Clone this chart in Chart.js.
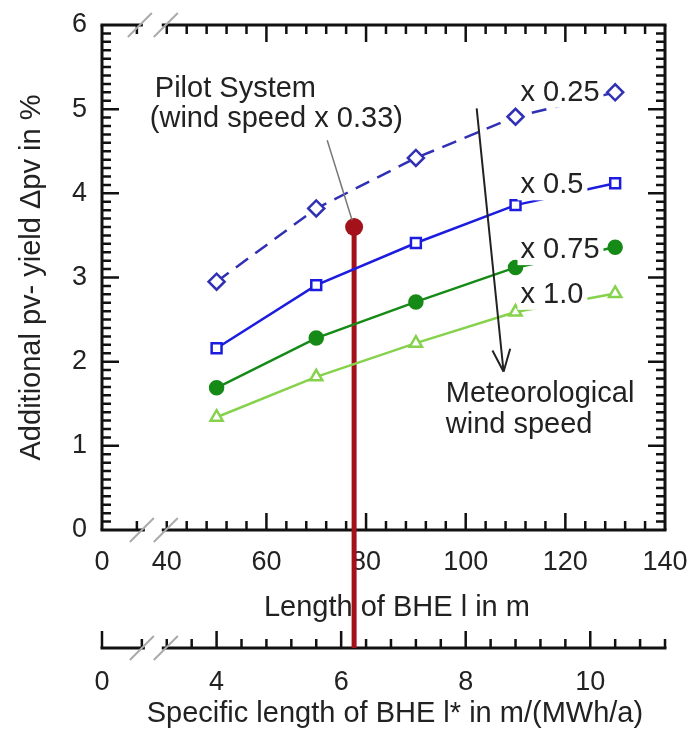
<!DOCTYPE html>
<html>
<head>
<meta charset="utf-8">
<script src="https://cdn.jsdelivr.net/npm/chart.js@4/dist/chart.umd.min.js"></script>
<style>
  html, body { margin: 0; padding: 0; background: #fff; }
  #wrap { width: 692px; height: 729px; }
</style>
</head>
<body>
<div id="wrap"><canvas id="myChart" width="692" height="729"></canvas></div>
<script>
// length of BHE in m
const lengths = [50, 70, 90, 110, 130];
// additional pv yield in %, one series per wind speed factor
const yield025 = [2.95, 3.82, 4.42, 4.91, 5.20];
const yield05 = [2.16, 2.91, 3.41, 3.86, 4.12];
const yield075 = [1.69, 2.28, 2.71, 3.12, 3.36];
const yield10 = [1.34, 1.82, 2.22, 2.59, 2.81];
const seriesNames = ["x 0.25", "x 0.5", "x 0.75", "x 1.0"];
// pilot system (wind speed x 0.33)
const pilotLength = [77.6];
const pilotYield = [3.6];
// tick labels
const lengthTicks = [40, 60, 80, 100, 120, 140];
const specificTicks = [4, 6, 8, 10];
const yieldTicks = [0, 1, 2, 3, 4, 5, 6];

// axis break: the "0" sits where 27 would be, 40..140 is linear
const breakStart = 27;
const mPerMWh = 12.5; // l* = l / 12.5
const FONT = "'Liberation Sans', Arial, Helvetica, sans-serif";
const TXT = "#222";

Chart.defaults.font.family = FONT;
Chart.defaults.color = TXT;

function pts(ys) {
  return lengths.map((x, i) => ({ x: x, y: ys[i] }));
}

// keep the label overhang out of the layout, the margins are set by layout.padding
function noOverhang(s) {
  s.paddingLeft = 0; s.paddingRight = 0; s.paddingTop = 0; s.paddingBottom = 0;
}

const colors = ["#3030b4", "#1c1ce0", "#168a16", "#86d24c"];

const frame = {
  id: "frame",
  beforeDatasetsDraw(chart) {
    const { ctx, chartArea: a, scales } = chart;
    const x = scales.x, x2 = scales.x2, y = scales.y;
    ctx.save();
    ctx.strokeStyle = "#111";
    ctx.lineCap = "butt";

    // horizontal axis with a break, ticks going up (dir -1) or down (dir 1)
    function brokenAxis(scale, y0, from, gapA, gapB, to, majors, minors, dir) {
      const p = v => scale.getPixelForValue(v);
      ctx.lineWidth = 3;
      ctx.beginPath();
      ctx.moveTo(p(from) - 1.5, y0); ctx.lineTo(p(gapA), y0);
      ctx.moveTo(p(gapB), y0); ctx.lineTo(p(to) + 1.5, y0);
      ctx.stroke();
      ctx.lineWidth = 2.5;
      ctx.beginPath();
      majors.forEach(v => { ctx.moveTo(p(v), y0); ctx.lineTo(p(v), y0 + dir * 17); });
      minors.forEach(v => { ctx.moveTo(p(v), y0); ctx.lineTo(p(v), y0 + dir * 9); });
      ctx.stroke();
      // break marks
      ctx.strokeStyle = "#aaa";
      ctx.lineWidth = 2;
      ctx.beginPath();
      [p(gapA) - 3, p(gapB) + 4].forEach(cx => {
        ctx.moveTo(cx - 12, y0 + 12); ctx.lineTo(cx + 12, y0 - 12);
      });
      ctx.stroke();
      ctx.strokeStyle = "#111";
    }

    const lenMinors = [34];
    for (let v = 40; v < 140; v += 4) if (v % 20 !== 0 || v === 40) lenMinors.push(v);
    const lenMajors = lengthTicks.filter(v => v > 40 && v < 140);
    brokenAxis(x, a.bottom, breakStart, 35.6, 39, 140, lenMajors, lenMinors, -1);
    brokenAxis(x, a.top, breakStart, 35.2, 39, 140, lenMajors, lenMinors, 1);

    const sMin = breakStart / mPerMWh, sMax = 140 / mPerMWh;
    const sMinors = [2.8];
    for (let k = 0; k <= 20; k++) {
      const v = +(3.2 + 0.4 * k).toFixed(2);
      if (v <= sMax + 1e-6 && !specificTicks.includes(v)) sMinors.push(v);
    }
    brokenAxis(x2, x2.top, sMin, 35.6 / mPerMWh, 39 / mPerMWh, sMax,
      [sMin].concat(specificTicks), sMinors, -1);

    // left and right frame with ticks
    ctx.lineWidth = 3;
    ctx.beginPath();
    ctx.moveTo(a.left, a.top); ctx.lineTo(a.left, a.bottom);
    ctx.moveTo(a.right, a.top); ctx.lineTo(a.right, a.bottom);
    ctx.stroke();
    ctx.lineWidth = 2.5;
    ctx.beginPath();
    for (let k = 1; k < 60; k++) {
      const py = y.getPixelForValue(k / 10);
      const len = k % 10 === 0 ? 17 : 9;
      ctx.moveTo(a.left, py); ctx.lineTo(a.left + len, py);
      ctx.moveTo(a.right, py); ctx.lineTo(a.right - len, py);
    }
    ctx.stroke();

    // drop line of the pilot system down to the l* axis
    const px = x.getPixelForValue(pilotLength[0]);
    ctx.strokeStyle = "#a3121a";
    ctx.lineWidth = 5;
    ctx.beginPath();
    ctx.moveTo(px, y.getPixelForValue(pilotYield[0]));
    ctx.lineTo(px, x2.top);
    ctx.stroke();
    ctx.restore();
  },
  afterDatasetsDraw(chart) {
    const { ctx, scales } = chart;
    const x = scales.x, x2 = scales.x2, y = scales.y;
    const X = v => x.getPixelForValue(v), Y = v => y.getPixelForValue(v);
    ctx.save();
    ctx.font = "29px " + FONT;
    ctx.textBaseline = "alphabetic";
    ctx.textAlign = "left";

    // series labels on white boxes over the line ends
    const labelBase = [5.10, 4.00, 3.23, 2.70];
    seriesNames.forEach((t, i) => {
      const lx = X(111), ly = Y(labelBase[i]);
      const w = ctx.measureText(t).width;
      ctx.fillStyle = "#fff";
      ctx.fillRect(lx - 3, ly - 24, w + 7, 31);
      ctx.fillStyle = TXT;
      ctx.fillText(t, lx, ly);
    });

    // pilot system note and leader line
    ctx.fillStyle = TXT;
    ctx.fillText("Pilot System", X(37.6), Y(5.14));
    ctx.fillText("(wind speed x 0.33)", X(36.6), Y(4.79));
    ctx.strokeStyle = "#777";
    ctx.lineWidth = 1.5;
    ctx.beginPath();
    ctx.moveTo(X(72.2), Y(4.63));
    ctx.lineTo(X(77.2), Y(3.68));
    ctx.stroke();

    // arrow for increasing wind speed
    const ax0 = X(102.2), ay0 = Y(5.01), ax1 = X(107.6), ay1 = Y(1.88);
    ctx.strokeStyle = "#222";
    ctx.lineWidth = 2;
    ctx.beginPath();
    ctx.moveTo(ax0, ay0); ctx.lineTo(ax1, ay1);
    const ang = Math.atan2(ay1 - ay0, ax1 - ax0);
    [0.38, -0.38].forEach(d => {
      ctx.moveTo(ax1, ay1);
      ctx.lineTo(ax1 - 24 * Math.cos(ang + d), ay1 - 24 * Math.sin(ang + d));
    });
    ctx.stroke();
    ctx.fillText("Meteorological", X(96), Y(1.52));
    ctx.fillText("wind speed", X(96), Y(1.15));

    // x axis titles
    ctx.textAlign = "center";
    ctx.textBaseline = "middle";
    ctx.fillText("Length of BHE l in m", X(86.2), x.bottom - 40);
    ctx.fillText("Specific length of BHE l* in m/(MWh/a)", X(85.8), x2.bottom - 15);
    ctx.restore();
  }
};

const lineDs = (label, ys, i, style, filled, radius, dash) => ({
  label: label,
  data: pts(ys),
  borderColor: colors[i],
  borderWidth: 2.5,
  borderDash: dash || [],
  pointStyle: style,
  pointRadius: radius,
  pointBorderWidth: 2.5,
  pointBorderColor: colors[i],
  pointBackgroundColor: filled ? colors[i] : "#fff",
  tension: 0
});

new Chart(document.getElementById("myChart"), {
  type: "line",
  data: {
    datasets: [
      lineDs(seriesNames[0], yield025, 0, "rectRot", false, 8, [15, 9]),
      lineDs(seriesNames[1], yield05, 1, "rect", false, 7),
      lineDs(seriesNames[2], yield075, 2, "circle", true, 6.5),
      lineDs(seriesNames[3], yield10, 3, "triangle", false, 7),
      {
        label: "Pilot System",
        data: pilotLength.map((v, i) => ({ x: v, y: pilotYield[i] })),
        showLine: false,
        pointRadius: 9,
        pointBackgroundColor: "#a3121a",
        pointBorderColor: "#a3121a",
        borderWidth: 0
      }
    ]
  },
  options: {
    responsive: false,
    animation: false,
    layout: { padding: { top: 25, right: 27, left: 0, bottom: 0 } },
    plugins: { legend: { display: false }, tooltip: { enabled: false } },
    scales: {
      x: {
        type: "linear",
        position: "bottom",
        weight: 0,
        min: breakStart,
        max: 140,
        grid: { display: false, drawTicks: false },
        border: { display: false },
        afterBuildTicks: s => { s.ticks = [breakStart].concat(lengthTicks).map(v => ({ value: v })); },
        afterFit: s => { s.height = 118; noOverhang(s); },
        ticks: {
          autoSkip: false, maxRotation: 0, padding: 16.8,
          font: { size: 27 },
          callback: v => v === breakStart ? "0" : String(v)
        }
      },
      x2: {
        type: "linear",
        position: "bottom",
        weight: 1,
        min: breakStart / mPerMWh,
        max: 140 / mPerMWh,
        grid: { display: false, drawTicks: false },
        border: { display: false },
        afterBuildTicks: s => { s.ticks = [breakStart / mPerMWh].concat(specificTicks).map(v => ({ value: v })); },
        afterFit: s => { s.height = 81; noOverhang(s); },
        ticks: {
          autoSkip: false, maxRotation: 0, padding: 18.8,
          font: { size: 27 },
          callback: v => v === breakStart / mPerMWh ? "0" : String(v)
        }
      },
      y: {
        min: 0,
        max: 6,
        grid: { display: false, drawTicks: false },
        border: { display: false },
        afterBuildTicks: s => { s.ticks = yieldTicks.map(v => ({ value: v })); },
        afterFit: s => { s.width = 102; noOverhang(s); },
        ticks: { padding: 15, font: { size: 27 } },
        title: {
          display: true,
          text: "Additional pv- yield \u0394pv in %",
          font: { size: 29 },
          padding: { top: 14.6, bottom: 0 }
        }
      }
    }
  },
  plugins: [frame]
});
</script>
</body>
</html>
